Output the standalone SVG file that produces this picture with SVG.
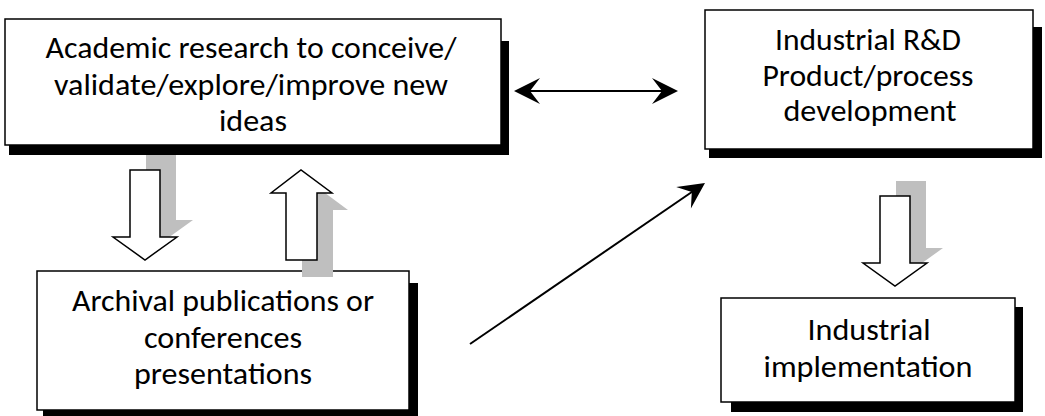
<svg xmlns="http://www.w3.org/2000/svg" width="1045" height="416" viewBox="0 0 1045 416">
<style>
.box{fill:#fff;stroke:#000;stroke-width:1.5}
.shadow{fill:#000}
.lbl{font-family:Carlito,Lato,"Open Sans",sans-serif;font-size:30px;fill:#000;text-anchor:middle}
.blk{fill:#fff;stroke:#000;stroke-width:1.5;stroke-linejoin:miter}
.gsh{fill:#bfbfbf}
.con{fill:none;stroke:#000;stroke-width:2}
</style>
<defs>
<marker id="ah" markerUnits="userSpaceOnUse" viewBox="-19 -14 28 28" markerWidth="28" markerHeight="28" refX="0" refY="0" orient="auto-start-reverse">
<path d="M8,0 L-18,-13 L-8,0 L-18,13 Z" fill="#000"/>
</marker>
</defs>
<rect width="1045" height="416" fill="#fff"/>

<g id="node-academic">
<polygon class="shadow" points="501,41 509,41 509,155 9,155 9,145 501,145"/>
<rect class="box" x="5" y="19" width="496" height="126"/>
<text class="lbl" x="251" y="58" textLength="411" lengthAdjust="spacingAndGlyphs">Academic research to conceive/</text>
<text class="lbl" x="251" y="95" textLength="394" lengthAdjust="spacingAndGlyphs">validate/explore/improve new</text>
<text class="lbl" x="253" y="131" textLength="68" lengthAdjust="spacingAndGlyphs">ideas</text>
</g>

<g id="node-archival">
<polygon class="shadow" points="409,283 418,283 418,417 43,417 43,410 409,410"/>
<rect class="box" x="37" y="271" width="372" height="139"/>
<text class="lbl" x="223" y="311" textLength="302" lengthAdjust="spacingAndGlyphs">Archival publications or</text>
<text class="lbl" x="223" y="348" textLength="158" lengthAdjust="spacingAndGlyphs">conferences</text>
<text class="lbl" x="223" y="384" textLength="178" lengthAdjust="spacingAndGlyphs">presentations</text>
</g>

<g id="node-industrial-rd">
<polygon class="shadow" points="1033,27 1042,27 1042,158 709,158 709,149 1033,149"/>
<rect class="box" x="705" y="10" width="328" height="139"/>
<text class="lbl" x="868" y="50" textLength="186" lengthAdjust="spacingAndGlyphs">Industrial R&amp;D</text>
<text class="lbl" x="868" y="86" textLength="211" lengthAdjust="spacingAndGlyphs">Product/process</text>
<text class="lbl" x="870" y="121" textLength="173" lengthAdjust="spacingAndGlyphs">development</text>
</g>

<g id="node-implementation">
<polygon class="shadow" points="1015,307 1023,307 1023,412 731,412 731,402 1015,402"/>
<rect class="box" x="721" y="298" width="294" height="104"/>
<text class="lbl" x="869" y="340" textLength="123" lengthAdjust="spacingAndGlyphs">Industrial</text>
<text class="lbl" x="868" y="377" textLength="209" lengthAdjust="spacingAndGlyphs">implementation</text>
</g>

<g id="connectors">
<g id="down-left">
<polygon class="gsh" points="146,155 176,155 176,220 193,220 161,243 129,220 146,220"/>
<polygon class="blk" points="130,170 160,170 160,237 177,237 145,260 113,237 130,237"/>
</g>
<g id="up-left">
<polygon class="gsh" points="302,210 287,210 317,187 348,210 333,210 333,277 302,277"/>
<polygon class="blk" points="286,260 286,193 271,193 301,170 332,193 317,193 317,260"/>
</g>
<g id="down-right">
<polygon class="gsh" points="896,181 926,181 926,248 943,248 911,271 879,248 896,248"/>
<polygon class="blk" points="880,196 910,196 910,263 927,263 895,286 863,263 880,263"/>
</g>
<line class="con" x1="522" y1="91" x2="670" y2="91" marker-start="url(#ah)" marker-end="url(#ah)"/>
<line class="con" x1="470" y1="344" x2="698.4" y2="187.5" marker-end="url(#ah)"/>
</g>
</svg>
